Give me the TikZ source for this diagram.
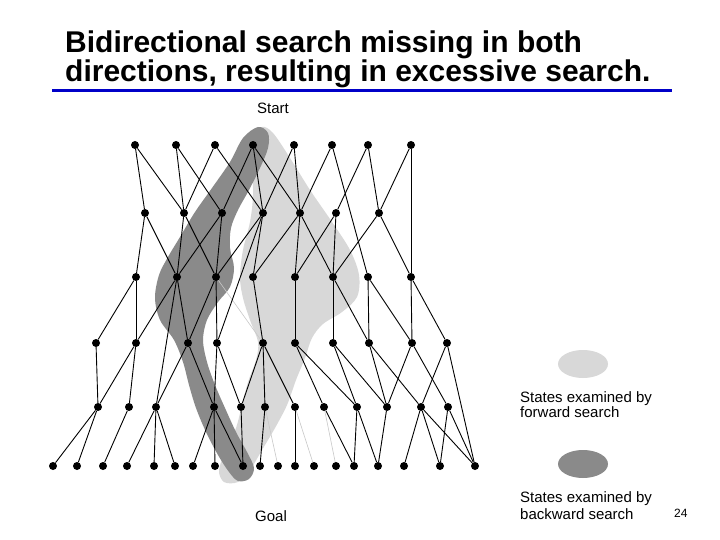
\documentclass[tikz,border=0pt]{standalone}
\usepackage{fontspec}
\setmainfont{Liberation Sans}
\usetikzlibrary{shapes.geometric}
\definecolor{fwdgray}{RGB}{216,216,216}
\definecolor{bwdgray}{RGB}{138,138,138}
\definecolor{titleblue}{RGB}{0,0,200}
\definecolor{faintline}{RGB}{200,200,200}
\begin{document}
\begin{tikzpicture}[x=1pt,y=-1pt,
  dot/.style={circle,fill=black,inner sep=0pt,minimum size=8pt},
  edge/.style={draw=black,line width=0.9pt},
  faintedge/.style={draw=faintline,line width=0.6pt},
  lbl/.style={anchor=base west,inner sep=0pt,font=\fontsize{15}{17}\selectfont},
  ttl/.style={anchor=base west,inner sep=0pt,font=\fontsize{30}{30}\selectfont\bfseries}]
\useasboundingbox (0,0) rectangle (720,540);
\fill[white] (0,0) rectangle (720,540);

% title
\node[ttl] (t1) at (65,53) {Bidirectional search missing in both};
\node[ttl] (t2) at (65,82) {directions, resulting in excessive search.};
\coordinate (bl) at (52,91);
\coordinate (br) at (672,91);
\draw[titleblue,line width=3pt] (bl) -- (br);

% forward search region (light)
\fill[fwdgray] plot[smooth cycle, tension=0.55] coordinates {
 (262,127) (273,133) (290,158) (310,190) (332,222) (350,250) (359,275)
 (357,297) (342,312) (323,324) (312,338) (305,358) (296,380) (287,405)
 (275,428) (262,450) (250,470) (238,482) (224,482) (219,470) (226,450)
 (236,428) (242,405) (248,382) (256,360) (258,342) (250,320) (243,298)
 (240,277) (243,250) (250,222) (253,195) (252,160) (253,138)};

% backward search region (dark)
\fill[bwdgray] plot[smooth cycle, tension=0.55] coordinates {
 (258,127) (268,133) (268,148) (260,168) (249,190) (238,210) (231,228)
 (230,248) (234,268) (230,287) (218,302) (207,320) (203,340) (207,362)
 (215,385) (225,408) (236,432) (247,452) (254,468) (249,479) (238,481)
 (229,472) (218,455) (206,432) (196,408) (189,385) (183,362) (174,340)
 (160,320) (155,298) (159,275) (168,257) (180,237) (195,212) (212,188)
 (230,162) (243,138)};

% nodes
\foreach \n/\x in {a1/135,a2/176,a3/215,a4/253,a5/294,a6/332,a7/368,a8/411}
  \node[dot] (\n) at (\x,145) {};
\foreach \n/\x in {b1/145,b2/184,b3/222,b4/263,b5/300,b6/336,b7/379}
  \node[dot] (\n) at (\x,213) {};
\foreach \n/\x in {c1/136,c2/177,c3/216,c4/253,c5/295,c6/333,c7/368,c8/411}
  \node[dot] (\n) at (\x,277) {};
\foreach \n/\x in {d1/96,d2/136,d3/188,d4/217,d5/263,d6/295,d7/333,d8/369,d9/412,d10/447}
  \node[dot] (\n) at (\x,343) {};
\foreach \n/\x in {e1/98,e2/129,e3/156,e4/214,e5/241,e6/265,e7/295,e8/324,e9/357,e10/387,e11/421,e12/448}
  \node[dot] (\n) at (\x,407) {};
\foreach \n/\x in {f1/53,f2/77,f3/103,f4/127,f5/154,f6/175,f7/193,f8/215,f9/243,f10/260,f11/278,f12/295,f13/314,f14/336,f15/354,f16/378,f17/404,f18/440,f19/475}
  \node[dot] (\n) at (\x,466) {};

% faint edges
\foreach \u/\v in {c3/d5,e6/f11,e7/f13,e8/f14}
  \draw[faintedge] (\u) -- (\v);

% edges
\foreach \u/\v in {a1/b1,a1/b2,a2/b2,a2/b3,a3/b2,a3/b4,a4/b3,a4/b4,a4/b5,a5/b4,a5/b5,a6/b5,a6/c7,a7/b6,a7/b7,a8/b7,a8/c8,
  b1/c1,b1/c2,b2/c2,b2/c3,b3/c2,b3/c3,b4/c3,b4/c4,b4/d4,b5/c4,b5/c5,b5/c6,b6/c5,b6/c6,b7/c6,b7/c8,
  c1/d1,c1/d2,c2/d2,c2/d3,c2/e3,c3/d3,c3/d4,c4/d5,c5/d6,c6/d7,c6/d8,c7/d8,c7/d9,c8/d9,c8/d10,
  d1/e1,d2/e1,d2/e2,d3/e3,d3/e4,d4/e4,d4/e5,d5/e5,d5/e6,d5/e7,d6/e8,d6/e9,d7/e9,d7/e10,d8/e10,d8/e11,d9/e10,d9/e12,d10/e11,d10/f19,
  e1/f1,e1/f2,e2/f3,e3/f4,e3/f5,e3/f6,e4/f7,e4/f8,e4/f9,e5/f9,e6/f10,e7/f12,e8/f15,e9/f15,e9/f16,e10/f16,e11/f17,e11/f18,e11/f19,e12/f18,e12/f19}
  \draw[edge] (\u) -- (\v);

% labels
\node[lbl] (start) at (257,114) {Start};
\node[lbl] (goal) at (255,521) {Goal};

% legend
\node[ellipse,fill=fwdgray,inner sep=0pt,minimum width=50pt,minimum height=28pt] (lf) at (583,364) {};
\node[lbl] (lf1) at (520,402) {States examined by};
\node[lbl] (lf2) at (520,417) {forward search};
\node[ellipse,fill=bwdgray,inner sep=0pt,minimum width=50pt,minimum height=28pt] (lb) at (583,464) {};
\node[lbl] (lb1) at (520,502) {States examined by};
\node[lbl] (lb2) at (520,519) {backward search};

\node[anchor=base west,inner sep=0pt,font=\fontsize{12}{14}\selectfont] (pg) at (674,517) {24};
\end{tikzpicture}
\end{document}
